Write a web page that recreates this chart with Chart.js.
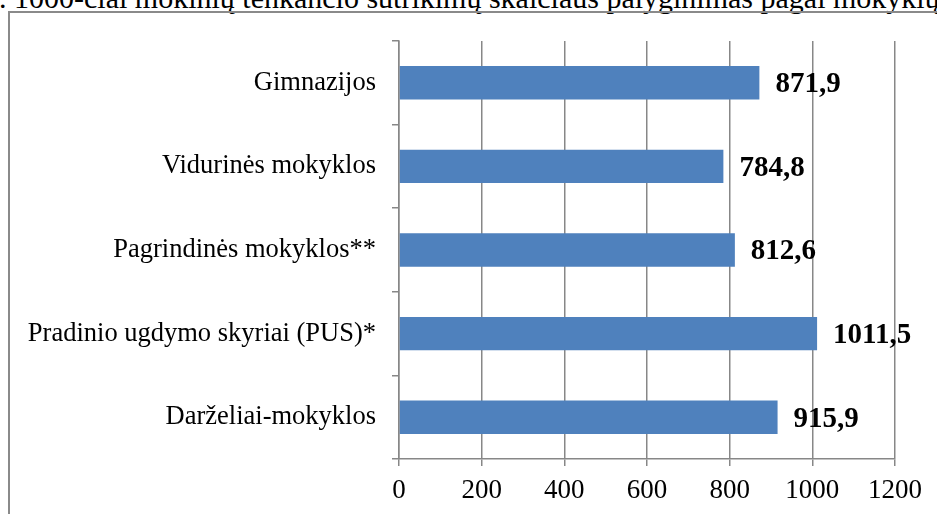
<!DOCTYPE html>
<html>
<head>
<meta charset="utf-8">
<script src="https://cdn.jsdelivr.net/npm/chart.js@4"></script>
<style>
    html, body {
        margin: 0;
        padding: 0;
        width: 937px;
        height: 514px;
        overflow: hidden;
        background: #ffffff;
    }
    #caption {
        position: absolute;
        left: -1px;
        top: -17px;
        white-space: nowrap;
        font-family: "Liberation Serif", "DejaVu Serif", serif;
        font-size: 30px;
        line-height: 30px;
        color: #000;
    }
    #frame {
        position: absolute;
        left: 8px;
        top: 11px;
        width: 1000px;
        height: 600px;
        border-left: 2px solid #8a8a8a;
        border-top: 2px solid #8a8a8a;
    }
    #chartBox {
        position: absolute;
        left: 0;
        top: 0;
        width: 937px;
        height: 514px;
    }
</style>
</head>
<body>
<div id="caption">. 1000-čiai mokinių tenkančio sutrikimų skaičiaus palyginimas pagal mokyklų tipą</div>
<div id="frame"></div>
<div id="chartBox"><canvas id="barChart" width="937" height="514"></canvas></div>

<script>
// Data
const categories = [
    'Gimnazijos',
    'Vidurinės mokyklos',
    'Pagrindinės mokyklos**',
    'Pradinio ugdymo skyriai (PUS)*',
    'Darželiai-mokyklos'
];
const values = [871.9, 784.8, 812.6, 1011.5, 915.9];
const xTicks = [0, 200, 400, 600, 800, 1000, 1200];

const serif = '"Liberation Serif", "DejaVu Serif", serif';
const axisGray = '#878787';

// Bold value labels to the right of every bar
const valueLabels = {
    id: 'valueLabels',
    afterDatasetsDraw(chart) {
        const ctx = chart.ctx;
        const meta = chart.getDatasetMeta(0);
        ctx.save();
        ctx.fillStyle = '#000';
        ctx.font = 'bold 29px ' + serif;
        ctx.textAlign = 'left';
        ctx.textBaseline = 'middle';
        meta.data.forEach((bar, i) => {
            const text = values[i].toFixed(1).replace('.', ',');
            ctx.fillText(text, bar.x + 16, bar.y + 2);
        });
        ctx.restore();
    }
};

const ctx = document.getElementById('barChart').getContext('2d');

new Chart(ctx, {
    type: 'bar',
    data: {
        labels: categories,
        datasets: [{
            data: values,
            backgroundColor: '#4f81bd',
            borderWidth: 0,
            categoryPercentage: 1.0,
            barPercentage: 0.4
        }]
    },
    plugins: [valueLabels],
    options: {
        indexAxis: 'y',
        responsive: false,
        animation: false,
        layout: {
            padding: { left: 0, top: 41, right: 42, bottom: 0 }
        },
        plugins: {
            legend: { display: false },
            tooltip: { enabled: false },
            title: { display: false }
        },
        scales: {
            x: {
                min: xTicks[0],
                max: xTicks[xTicks.length - 1],
                afterBuildTicks(scale) {
                    scale.ticks = xTicks.map(v => ({ value: v }));
                },
                afterFit(scale) {
                    scale.height = 55;
                },
                grid: {
                    color: axisGray,
                    lineWidth: 1.5,
                    tickLength: 7
                },
                border: {
                    color: axisGray,
                    width: 1.5
                },
                ticks: {
                    color: '#000',
                    padding: 9,
                    font: { family: serif, size: 27 },
                    callback: (value) => String(value)
                }
            },
            y: {
                afterFit(scale) {
                    scale.width = 399;
                },
                grid: {
                    drawOnChartArea: false,
                    offset: true,
                    color: axisGray,
                    lineWidth: 1.5,
                    tickLength: 7
                },
                border: {
                    color: axisGray,
                    width: 1.5
                },
                ticks: {
                    color: '#000',
                    padding: 16,
                    font: { family: serif, size: 26.5 }
                }
            }
        }
    }
});
</script>
</body>
</html>
